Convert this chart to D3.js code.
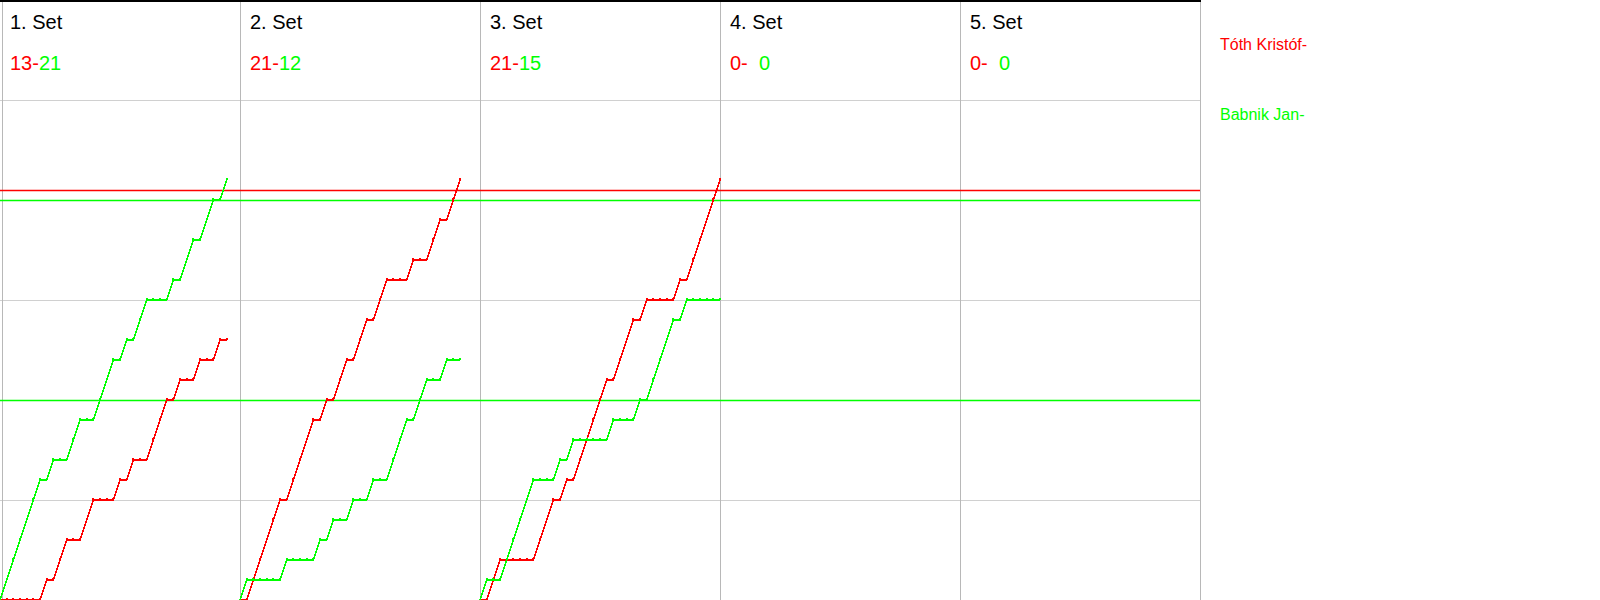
<!DOCTYPE html>
<html><head><meta charset="utf-8">
<script src="https://cdn.jsdelivr.net/npm/d3@7"></script>
<style>
html,body{margin:0;padding:0;background:#fff;}
svg{display:block;font-family:"Liberation Sans",Arial,sans-serif;}
</style></head>
<body>
<svg id="chart" width="1600" height="600"></svg>
<script>
// ---- data ----
const setLabels = ["1. Set", "2. Set", "3. Set", "4. Set", "5. Set"];
const redScores = [13, 21, 21, 0, 0];
const greenScores = [21, 12, 15, 0, 0];
const playerNames = ["Tóth Kristóf-", "Babnik Jan-"];
const playerColors = ["#ff0000", "#00ff00"];
// rally-by-rally winner sequence per set (R = red player, G = green player)
const rallies1 = "GGGGGGRGRRGGRRGGGRGRGGRRRGRGGRGGRG".split("");
const rallies2 = "GRRRRRGRRRRGRGRRGRRGRRGGGRGGRRGRR".split("");
const rallies3 = "GRRGGGGGRRRGRGRRRRRGRRRGRGGGGRGRRRRR".split("");
const rallies4 = [];
const rallies5 = [];
const rallySets = [rallies1, rallies2, rallies3, rallies4, rallies5];
const yGridValues = [5, 10, 15, 20, 25];
const refLines = [{v: 20.5, c: 0}, {v: 20, c: 1}, {v: 10, c: 1}];

// ---- layout ----
const svg = d3.select("#chart");
const chartW = 1200, H = 600;
const panelX = d3.scaleBand().domain(d3.range(setLabels.length)).range([0, chartW]).paddingInner(0).paddingOuter(0);
const panelW = panelX.bandwidth();
const maxRallies = d3.max(rallySets, r => r.length);
const x = d3.scaleLinear().domain([0, maxRallies]).range([0, panelW]);
const y = d3.scaleLinear().domain([0, 30]).range([H, 0]);

// grid
svg.append("g").selectAll("line").data(yGridValues).join("line")
  .attr("x1", 0).attr("x2", chartW)
  .attr("y1", d => Math.round(y(d)) + 0.5).attr("y2", d => Math.round(y(d)) + 0.5)
  .attr("stroke", "#d0d0d0").attr("stroke-width", 1);

// vertical separators
const vxs = [2].concat(d3.range(1, setLabels.length + 1).map(i => panelX(i - 1) + panelW));
svg.append("g").selectAll("line").data(vxs).join("line")
  .attr("x1", d => Math.round(d) + 0.5).attr("x2", d => Math.round(d) + 0.5)
  .attr("y1", 0).attr("y2", H)
  .attr("stroke", "#b8b8b8").attr("stroke-width", 1);

// top border
svg.append("line").attr("x1", 0).attr("x2", chartW + 1).attr("y1", 1).attr("y2", 1)
  .attr("stroke", "#000").attr("stroke-width", 2);

// reference lines
svg.append("g").selectAll("line").data(refLines).join("line")
  .attr("x1", 0).attr("x2", chartW)
  .attr("y1", d => Math.round(y(d.v)) + 0.5).attr("y2", d => Math.round(y(d.v)) + 0.5)
  .attr("stroke", d => playerColors[d.c]).attr("stroke-width", 1.3);

// score progression lines
const line = d3.line().x(d => d.x).y(d => d.y);
rallySets.forEach((rs, si) => {
  if (!rs.length) return;
  const ox = panelX(si);
  let r = 0, g = 0;
  const ptsR = [{x: ox + x(0), y: y(0)}], ptsG = [{x: ox + x(0), y: y(0)}];
  rs.forEach((w, i) => {
    if (w === "R") r++; else g++;
    ptsR.push({x: ox + x(i + 1), y: y(r)});
    ptsG.push({x: ox + x(i + 1), y: y(g)});
  });
  [[ptsR, 0], [ptsG, 1]].forEach(([pts, c]) => {
    const gg = svg.append("g");
    gg.append("path").attr("d", line(pts)).attr("fill", "none")
      .attr("stroke", playerColors[c]).attr("stroke-width", 1.4)
      .attr("shape-rendering", "crispEdges");
    gg.selectAll("rect").data(pts.slice(1)).join("rect")
      .attr("x", d => Math.round(d.x) - 1).attr("y", d => Math.round(d.y) - 2)
      .attr("width", 2).attr("height", 2).attr("fill", playerColors[c]);
  });
});

// headers
setLabels.forEach((lab, i) => {
  const ox = panelX(i);
  svg.append("text").attr("x", ox + 10).attr("y", 29).attr("font-size", 20)
    .attr("fill", "#000").text(lab);
  const rt = svg.append("text").attr("x", ox + 10).attr("y", 70).attr("font-size", 20)
    .attr("fill", playerColors[0]).text(redScores[i] + "-");
  const rw = rt.node().getComputedTextLength();
  const probe = svg.append("text").attr("font-size", 20).text("00");
  const dw = probe.node().getComputedTextLength();
  probe.remove();
  svg.append("text").attr("x", ox + 10 + rw + dw).attr("y", 70).attr("font-size", 20)
    .attr("text-anchor", "end").attr("fill", playerColors[1]).text(greenScores[i]);
});

// legend
svg.append("g").selectAll("text").data(playerNames).join("text")
  .attr("x", 1220).attr("y", (d, i) => 50 + i * 70)
  .attr("font-size", 16).attr("fill", (d, i) => playerColors[i]).text(d => d);
</script>
</body></html>
